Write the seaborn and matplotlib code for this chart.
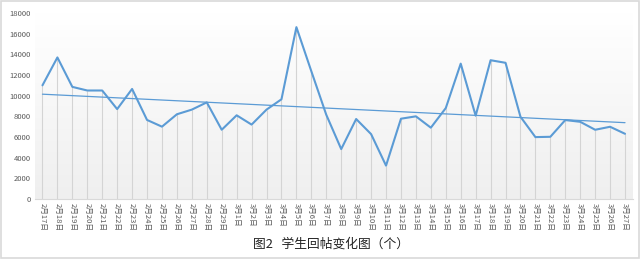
import numpy as np
import pandas as pd
import matplotlib
matplotlib.use("Agg")
import matplotlib.pyplot as plt
import seaborn as sns
from matplotlib.colors import LinearSegmentedColormap

feb_days = list(range(17, 30))
mar_days = list(range(1, 28))
categories = [f"2月{d}日" for d in feb_days] + [f"3月{d}日" for d in mar_days]
replies = [11000, 13700, 10850, 10500, 10500, 8700, 10650, 7650, 7000, 8200,
           8650, 9350, 6700, 8100, 7200, 8650, 9650, 16630, 12360, 8150,
           4830, 7740, 6280, 3230, 7770, 8000, 6900, 8800, 13100, 8060,
           13430, 13180, 7960, 5990, 6020, 7640, 7470, 6700, 6990, 6310]
y_ticks = [0, 2000, 4000, 6000, 8000, 10000, 12000, 14000, 16000, 18000]
title = "图2   学生回帖变化图（个）"

sns.set_theme(style="white")
plt.rcParams['font.family'] = ['Noto Sans CJK SC', 'DejaVu Sans']

df = pd.DataFrame({"idx": np.arange(len(categories)), "cat": categories, "val": replies})

fig = plt.figure(figsize=(6.4, 2.59), dpi=100)
fig.patch.set_facecolor("white")
ax = fig.add_axes([35/640, 1-199/259, (632.5-35)/640, (199-13)/259])

grad = np.linspace(0, 1, 256).reshape(-1, 1)
cmap = LinearSegmentedColormap.from_list("bg", ["#ffffff", "#efefef"])
ax.imshow(grad, extent=[0, 1, 0, 1], transform=ax.transAxes, aspect="auto",
          cmap=cmap, zorder=0, origin="upper")

ax.vlines(df["idx"], 0, df["val"], color="#d4d4d4", lw=0.8, zorder=1)
sns.lineplot(data=df, x="idx", y="val", ax=ax, color="#5b9bd5", lw=1.5, zorder=3)

coef = np.polyfit(df["idx"], df["val"], 1)
ax.plot(df["idx"], np.polyval(coef, df["idx"]), color="#5b9bd5", lw=0.9, zorder=2)

ax.set_xlim(-0.5, len(categories) - 0.5)
ax.set_ylim(0, 18000)
ax.set_yticks(y_ticks)
ax.set_yticklabels([str(t) for t in y_ticks], fontsize=5.5, color="#595959")
ax.set_xticks(df["idx"])
ax.set_xticklabels(categories, rotation=-90, fontsize=5.5, color="#595959")
ax.tick_params(axis="both", length=0, pad=3)
ax.set_xlabel("")
ax.set_ylabel("")
for s in ["top", "right", "left"]:
    ax.spines[s].set_visible(False)
ax.spines["bottom"].set_color("#d9d9d9")
ax.spines["bottom"].set_linewidth(0.8)

fig.text(331/640, 1-244/259, title, ha="center", va="center", fontsize=9.2,
         color="#222222")

fig.patches.append(plt.Rectangle((0.001, 0.004), 0.997, 0.993, transform=fig.transFigure,
                                 fill=False, edgecolor="#d9d9d9", lw=1.2))

fig.savefig("out.png", dpi=100)
